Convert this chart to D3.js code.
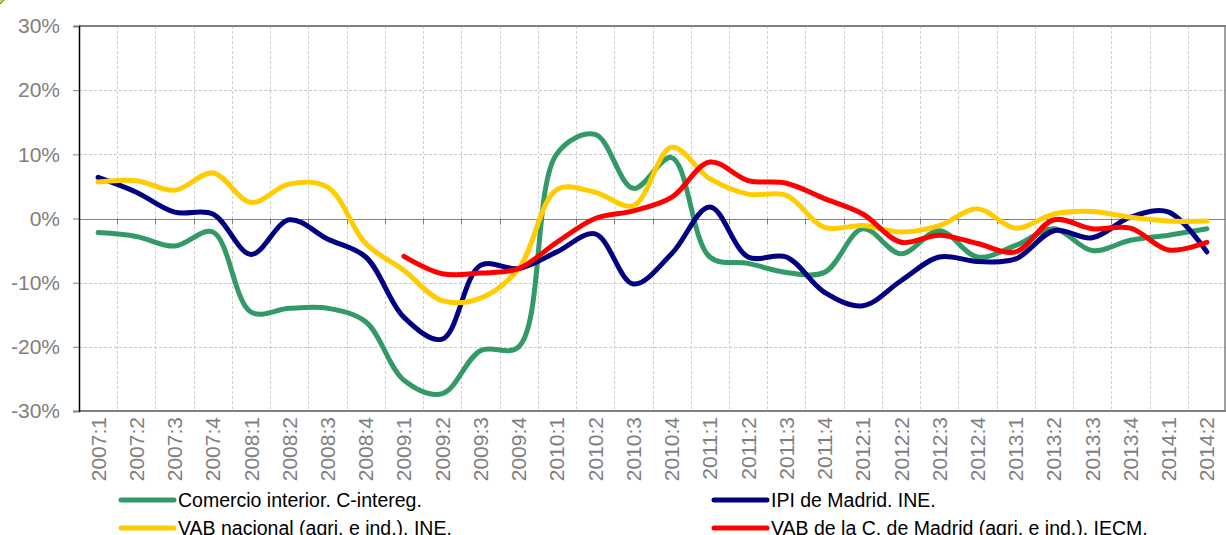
<!DOCTYPE html>
<html>
<head>
<meta charset="utf-8">
<script src="https://cdn.jsdelivr.net/npm/d3@7"></script>
<style>
  body { margin: 0; background: #fff; }
  text { font-family: "Liberation Sans", Arial, sans-serif; }
</style>
</head>
<body>
<div id="chart"></div>
<script>
const categories = ["2007:1","2007:2","2007:3","2007:4","2008:1","2008:2","2008:3","2008:4",
  "2009:1","2009:2","2009:3","2009:4","2010:1","2010:2","2010:3","2010:4",
  "2011:1","2011:2","2011:3","2011:4","2012:1","2012:2","2012:3","2012:4",
  "2013:1","2013:2","2013:3","2013:4","2014:1","2014:2"];

const comercio = [-2.2, -2.8, -4.3, -2.1, -14.6, -14.0, -14.0, -16.1, -25.2, -27.3, -20.6, -20.0,
  10.1, 13.1, 4.7, 9.5, -6.0, -7.0, -8.4, -8.4, -1.6, -5.5, -1.9, -6.0, -4.2, -1.6, -5.0, -3.4, -2.6, -1.6];
const ipi = [6.4, 4.1, 1.0, 0.7, -5.6, -0.2, -3.2, -6.0, -15.4, -18.8, -7.3, -7.8,
  -5.2, -2.4, -10.2, -5.5, 1.8, -6.0, -6.0, -11.5, -13.6, -9.7, -6.0, -6.7, -6.3, -1.9, -3.0, 0.2, 1.0, -5.2];
const vabNacional = [5.7, 5.9, 4.4, 7.1, 2.5, 5.4, 4.9, -3.9, -8.1, -12.8, -12.4, -7.8,
  4.5, 4.1, 2.0, 11.1, 6.2, 3.8, 3.6, -1.4, -1.1, -2.1, -1.1, 1.5, -1.5, 0.7, 1.1, 0.2, -0.4, -0.4];
const vabMadrid = [null, null, null, null, null, null, null, null, -5.9, -8.6, -8.5, -7.8,
  -3.7, 0.0, 1.2, 3.3, 8.8, 5.9, 5.5, 3.1, 0.7, -3.7, -2.6, -3.9, -5.2, -0.2, -1.6, -1.5, -4.9, -3.7];

const yTicks = [-30, -20, -10, 0, 10, 20, 30];

const seriesNames = ["Comercio interior. C-intereg.", "IPI de Madrid. INE.",
  "VAB nacional (agri. e ind.). INE.", "VAB de la C. de Madrid (agri. e ind.). IECM."];
const seriesValues = [comercio, ipi, vabNacional, vabMadrid];
const seriesColors = ["#339966", "#000080", "#ffcc00", "#ff0000"];

const W = 1226, H = 535;
const plot = {left: 79, right: 1226, top: 26, bottom: 411};

const svg = d3.select("#chart").append("svg")
  .attr("width", W).attr("height", H);

// corner decoration
svg.append("circle").attr("cx", -24).attr("cy", -24).attr("r", 37)
  .attr("fill", "#bfe34b").attr("stroke", "#556b2f").attr("stroke-width", 1);

const x = d3.scaleBand().domain(categories).range([plot.left, plot.right]);
const y = d3.scaleLinear().domain([-30, 30]).range([plot.bottom, plot.top]);

// vertical grid at category boundaries
svg.append("g").selectAll("line")
  .data(categories.slice(1))
  .join("line")
    .attr("x1", d => Math.round(x(d)) + 0.5).attr("x2", d => Math.round(x(d)) + 0.5)
    .attr("y1", plot.top).attr("y2", plot.bottom)
    .attr("stroke", "#d0d0d0").attr("stroke-dasharray", "3,2");

// horizontal grid
svg.append("g").selectAll("line")
  .data(yTicks.filter(d => d !== 0 && Math.abs(d) !== 30))
  .join("line")
    .attr("x1", plot.left).attr("x2", plot.right)
    .attr("y1", d => Math.round(y(d)) + 0.5).attr("y2", d => Math.round(y(d)) + 0.5)
    .attr("stroke", "#c8c8c8").attr("stroke-dasharray", "3,2");

// frame
svg.append("line").attr("x1", plot.left).attr("x2", plot.right).attr("y1", plot.top).attr("y2", plot.top)
  .attr("stroke", "#808080").attr("stroke-width", 2);
svg.append("line").attr("x1", plot.right - 1).attr("x2", plot.right - 1).attr("y1", plot.top).attr("y2", plot.bottom)
  .attr("stroke", "#808080").attr("stroke-width", 1.5);
svg.append("line").attr("x1", plot.left).attr("x2", plot.right).attr("y1", plot.bottom).attr("y2", plot.bottom)
  .attr("stroke", "#808080").attr("stroke-width", 2);

// zero line with category ticks
svg.append("line").attr("x1", plot.left).attr("x2", plot.right)
  .attr("y1", Math.round(y(0)) + 0.5).attr("y2", Math.round(y(0)) + 0.5)
  .attr("stroke", "#808080").attr("stroke-width", 1);
svg.append("g").selectAll("line")
  .data(categories.slice(1))
  .join("line")
    .attr("x1", d => Math.round(x(d)) + 0.5).attr("x2", d => Math.round(x(d)) + 0.5)
    .attr("y1", y(0)).attr("y2", y(0) + 6)
    .attr("stroke", "#808080");

// y axis
const yAxis = svg.append("g")
  .attr("transform", `translate(${plot.left},0)`)
  .call(d3.axisLeft(y).tickValues(yTicks).tickSize(6).tickPadding(13).tickFormat(d => d + "%"));
yAxis.select(".domain").attr("stroke", "#000").attr("stroke-width", 1.5);
yAxis.selectAll(".tick line").attr("stroke", "#808080");
yAxis.selectAll("text").attr("fill", "#808080").style("font-size", "21px")
  .style("font-family", "'Liberation Sans', Arial, sans-serif");

// x labels
svg.append("g").selectAll("text")
  .data(categories)
  .join("text")
    .attr("transform", d => `translate(${x(d) + x.bandwidth() / 2 + 7.5},417) rotate(-90)`)
    .attr("text-anchor", "end")
    .attr("fill", "#808080")
    .style("font-size", "21px")
    .text(d => d);

// lines
const line = d3.line()
  .defined(d => d.v !== null)
  .x(d => x(d.c) + x.bandwidth() / 2)
  .y(d => y(d.v))
  .curve(d3.curveCatmullRom.alpha(0.5));

seriesValues.forEach((vals, i) => {
  const pts = categories.map((c, j) => ({c: c, v: vals[j]}));
  svg.append("path")
    .datum(pts)
    .attr("d", line)
    .attr("fill", "none")
    .attr("stroke", seriesColors[i])
    .attr("stroke-width", 5)
    .attr("stroke-linecap", "round")
    .attr("stroke-linejoin", "round");
});

// legend
const legendPos = [[119, 500], [712, 500], [119, 528], [712, 528]];
seriesNames.forEach((name, i) => {
  const [lx, ly] = legendPos[i];
  svg.append("line").attr("x1", lx + 2).attr("x2", lx + 55).attr("y1", ly).attr("y2", ly)
    .attr("stroke", seriesColors[i]).attr("stroke-width", 5).attr("stroke-linecap", "round");
  svg.append("text").attr("x", lx + 59).attr("y", ly + 6.5)
    .attr("fill", "#000").style("font-size", "19.5px").text(name);
});
</script>
</body>
</html>
